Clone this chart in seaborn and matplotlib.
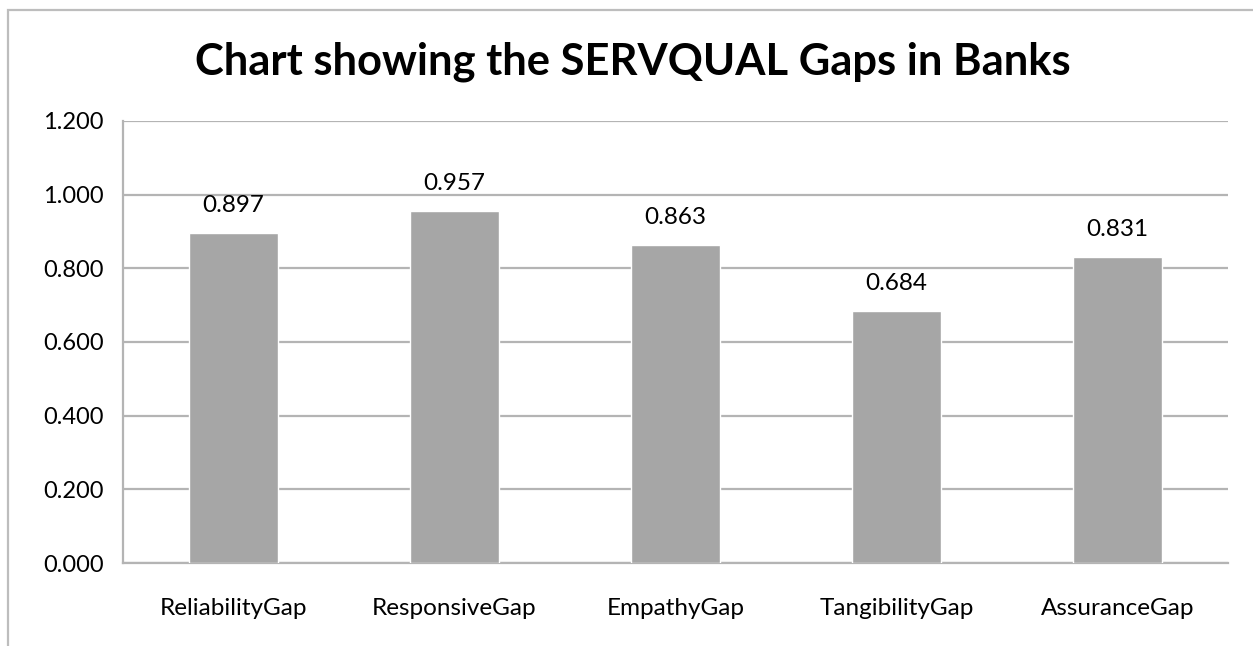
import matplotlib
matplotlib.use("Agg")
import matplotlib.pyplot as plt
from matplotlib.patches import Rectangle
from matplotlib.ticker import FuncFormatter, MultipleLocator
import seaborn as sns

categories = ["ReliabilityGap", "ResponsiveGap", "EmpathyGap", "TangibilityGap", "AssuranceGap"]
gap_values = [0.897, 0.957, 0.863, 0.684, 0.831]
title_text = "Chart showing the SERVQUAL Gaps in Banks"

sns.set_style("white")
plt.rcParams["font.family"] = ["Lato", "DejaVu Sans"]

W, H = 1253, 646
fig = plt.figure(figsize=(W / 100, H / 100), dpi=100)
ax = fig.add_axes([123 / W, 1 - 563 / H, (1228 - 123) / W, (563 - 121) / H])

bar_color = "#a6a6a6"
grid_color = "#b4b4b4"

sns.barplot(x=categories, y=gap_values, color=bar_color, saturation=1,
            width=0.4, ax=ax, zorder=3)

ax.set_ylim(0, 1.2)
ax.set_xlim(-0.5, len(categories) - 0.5)
ax.yaxis.set_major_locator(MultipleLocator(0.2))
ax.yaxis.set_major_formatter(FuncFormatter(lambda v, _: f"{v:.3f}"))
ax.yaxis.grid(True, color=grid_color, lw=1.6)
ax.set_axisbelow(True)

for side in ("top", "right"):
    ax.spines[side].set_visible(False)
for side in ("left", "bottom"):
    ax.spines[side].set_color(grid_color)
    ax.spines[side].set_linewidth(1.6)

ax.tick_params(axis="y", length=7, width=1.6, color=grid_color, pad=7,
               labelsize=17, labelcolor="black")
ax.tick_params(axis="x", length=0, pad=25, labelsize=17.5, labelcolor="black")
ax.set_xlabel("")
ax.set_ylabel("")

for i, v in enumerate(gap_values):
    ax.annotate(f"{v:.3f}", xy=(i, v), xytext=(0, 12), textcoords="offset points",
                ha="center", va="bottom", fontsize=17.5, color="black")

fig.text(633 / W, 1 - 62 / H, title_text, ha="center", va="center",
         fontsize=31.3, fontweight="bold", color="black")

# outer chart frame
fig.patches.append(Rectangle((8 / W, -0.1), 1.2, 1 - 10 / H + 0.1,
                             transform=fig.transFigure, fill=False,
                             edgecolor="#bdbdbd", lw=1.6))

fig.savefig("out.png", dpi=100)
